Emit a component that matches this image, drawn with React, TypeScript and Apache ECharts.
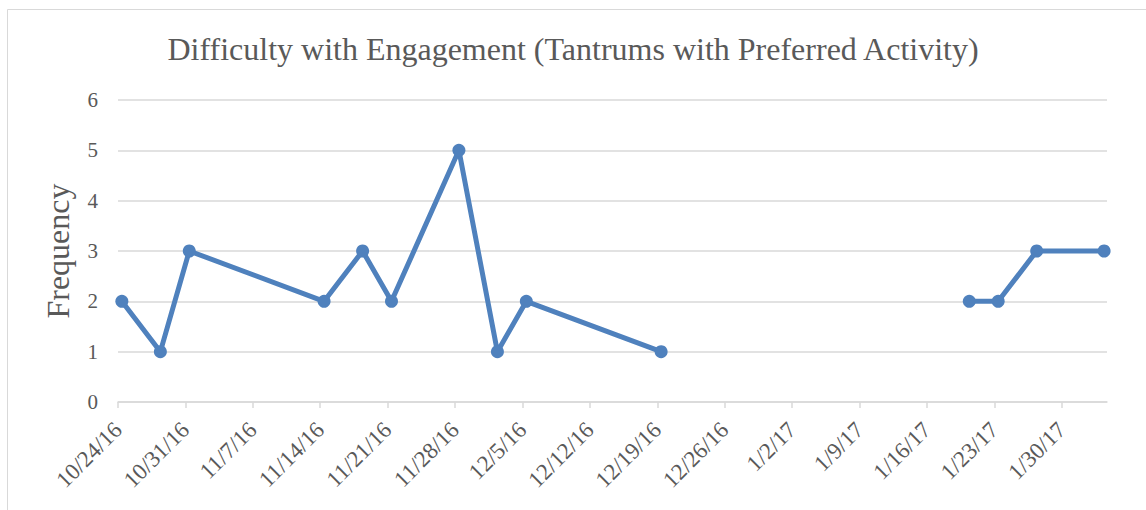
import React, { useEffect, useRef } from "react";
import * as echarts from "echarts";

const axisStart = "10/24/16";
const tickLabels = [
  "10/24/16", "10/31/16", "11/7/16", "11/14/16", "11/21/16", "11/28/16", "12/5/16",
  "12/12/16", "12/19/16", "12/26/16", "1/2/17", "1/9/17", "1/16/17", "1/23/17", "1/30/17",
];
const pointDates = [
  "10/24/16", "10/28/16", "10/31/16", "11/14/16", "11/18/16", "11/21/16", "11/28/16",
  "12/2/16", "12/5/16", "12/19/16", "1/20/17", "1/23/17", "1/27/17", "2/3/17",
];
const frequency = [2, 1, 3, 2, 3, 2, 5, 1, 2, 1, 2, 2, 3, 3];
// no data recorded between these two dates: the line breaks
const gapAfter = "12/19/16";
const axisEndDay = 102.7;

function parse(d: string): number {
  const [m, day, y] = d.split("/").map(Number);
  return Date.UTC(2000 + y, m - 1, day);
}
function dayIndex(d: string): number {
  return Math.round((parse(d) - parse(axisStart)) / 86400000);
}

export default function App() {
  const ref = useRef<HTMLDivElement>(null);
  useEffect(() => {
    document.body.style.margin = "0";
    const chart = echarts.init(ref.current!, null, { renderer: "svg" });
    const font = "'Liberation Serif', 'Times New Roman', serif";
    const tickDays = tickLabels.map(dayIndex);
    const labelByDay: Record<number, string> = {};
    tickLabels.forEach((t, i) => (labelByDay[tickDays[i]] = t));
    const data: any[] = [];
    pointDates.forEach((d, i) => {
      data.push([dayIndex(d) + 0.4, frequency[i]]);
      if (d === gapAfter) data.push([dayIndex(d) + 1, "-"]);
    });
    chart.setOption({
      animation: false,
      backgroundColor: "#ffffff",
      title: {
        text: "Difficulty with Engagement (Tantrums with Preferred Activity)",
        left: "center",
        top: 28,
        textStyle: { fontFamily: font, fontSize: 32, fontWeight: "normal", color: "#595959" },
      },
      graphic: [
        { type: "line", shape: { x1: 7.5, y1: 9.5, x2: 1146, y2: 9.5 }, style: { stroke: "#d9d9d9", lineWidth: 1 } },
        { type: "line", shape: { x1: 7.5, y1: 9.5, x2: 7.5, y2: 510 }, style: { stroke: "#d9d9d9", lineWidth: 1 } },
      ],
      grid: { left: 118, right: 39, top: 100, bottom: 108, containLabel: false },
      xAxis: {
        type: "value",
        min: 0,
        max: axisEndDay,
        interval: 7,
        splitLine: { show: false },
        axisLine: { show: true, lineStyle: { color: "#d9d9d9", width: 1.5 } },
        axisTick: { show: true, length: 6, lineStyle: { color: "#d9d9d9", width: 1.5 }, customValues: tickDays },
        axisLabel: {
          rotate: 45,
          margin: 24,
          fontFamily: font,
          fontSize: 23,
          color: "#595959",
          customValues: tickDays,
          formatter: (v: number) => labelByDay[Math.round(v)] ?? "",
        },
      },
      yAxis: {
        type: "value",
        min: 0,
        max: 6,
        interval: 1,
        name: "Frequency",
        nameLocation: "middle",
        nameGap: 44,
        nameTextStyle: { fontFamily: font, fontSize: 32, color: "#595959" },
        axisLine: { show: false },
        axisTick: { show: false },
        splitLine: { lineStyle: { color: "#d9d9d9", width: 1.5 } },
        axisLabel: { fontFamily: font, fontSize: 21, color: "#595959", margin: 20 },
      },
      series: [
        {
          type: "line",
          data,
          connectNulls: false,
          symbol: "circle",
          symbolSize: 13,
          lineStyle: { color: "#4f81bd", width: 5 },
          itemStyle: { color: "#4f81bd" },
        },
      ],
    });
    return () => chart.dispose();
  }, []);
  return <div ref={ref} style={{ width: 1146, height: 510 }} />;
}
